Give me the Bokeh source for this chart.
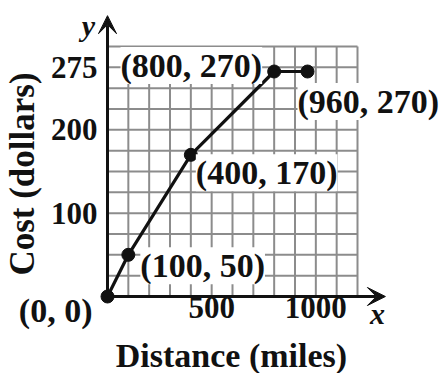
import math
from bokeh.plotting import figure
from bokeh.models import Range1d, FixedTicker, Label, Arrow, VeeHead
from bokeh.embed import file_html
from bokeh.resources import INLINE

# data
distance = [0, 100, 400, 800, 960]
cost = [0, 50, 170, 270, 270]
point_labels = ["(0, 0)", "(100, 50)", "(400, 170)", "(800, 270)", "(960, 270)"]
x_ticks = [500, 1000]
y_ticks = [100, 200, 275]
grid_x = [0, 100, 200, 300, 400, 500, 600, 700, 800, 900, 1000, 1100, 1200]
grid_y = [0, 25, 50, 75, 100, 125, 150, 175, 200, 225, 250, 275, 300]
x_axis_end = 1334
y_axis_end = 337

# label placement (px offsets, align)
label_style = [
    (-15, -14, "right"),
    (12, -11, "left"),
    (5, -18, "left"),
    (-12, 6, "right"),
    (-10, -30, "left"),
]

FONT = "Liberation Serif"
INK = "#111111"

p = figure(width=441, height=373,
           x_range=Range1d(-513.6, 1603.2), y_range=Range1d(-92.4, 355.2),
           output_backend="svg", toolbar_location=None,
           min_border_left=0, min_border_right=0,
           min_border_top=0, min_border_bottom=0)
p.outline_line_color = None
p.xgrid.visible = False
p.ygrid.visible = False

for ax in (p.xaxis, p.yaxis):
    ax.fixed_location = 0
    ax.axis_line_color = None
    ax.major_tick_line_color = None
    ax.minor_tick_line_color = None
    ax.major_tick_out = 0
    ax.major_tick_in = 0
    ax.major_label_text_font = FONT
    ax.major_label_text_font_style = "bold"
    ax.major_label_text_font_size = "31px"
    ax.major_label_text_color = INK
p.xaxis.ticker = FixedTicker(ticks=x_ticks)
p.yaxis.ticker = FixedTicker(ticks=y_ticks)
p.xaxis.major_label_standoff = 0
p.yaxis.major_label_standoff = 10

# grid limited to the drawn area
p.segment(x0=grid_x, y0=[grid_y[0]] * len(grid_x), x1=grid_x, y1=[grid_y[-1]] * len(grid_x),
          line_color="#8c8c8c", line_width=2)
p.segment(x0=[grid_x[0]] * len(grid_y), y0=grid_y, x1=[grid_x[-1]] * len(grid_y), y1=grid_y,
          line_color="#8c8c8c", line_width=2)

# axes with arrow heads
p.add_layout(Arrow(x_start=0, y_start=0, x_end=x_axis_end, y_end=0, line_width=3, line_color=INK,
                   end=VeeHead(size=18, fill_color=INK, line_color=INK)))
p.add_layout(Arrow(x_start=0, y_start=0, x_end=0, y_end=y_axis_end, line_width=3, line_color=INK,
                   end=VeeHead(size=18, fill_color=INK, line_color=INK)))

# data
p.line(distance, cost, line_color=INK, line_width=3.2)
p.scatter(distance, cost, size=13, fill_color=INK, line_color=INK)

for xv, yv, txt, (dx, dy, al) in zip(distance, cost, point_labels, label_style):
    p.add_layout(Label(x=xv, y=yv, text=txt, x_offset=dx, y_offset=dy, text_align=al,
                       text_baseline="middle", text_font=FONT, text_font_style="bold",
                       text_font_size="34px", text_color=INK,
                       background_fill_color="white"))

# axis variable names
p.add_layout(Label(x=0, y=y_axis_end, text="y", x_offset=-19, y_offset=-10, text_align="center",
                   text_baseline="middle", text_font=FONT, text_font_style="bold italic",
                   text_font_size="30px", text_color=INK))
p.add_layout(Label(x=x_axis_end, y=0, text="x", x_offset=-8, y_offset=-17, text_align="center",
                   text_baseline="middle", text_font=FONT, text_font_style="bold italic",
                   text_font_size="30px", text_color=INK))

# axis titles
p.add_layout(Label(x=595, y=-70.5, text="Distance (miles)", text_align="center",
                   text_baseline="middle", text_font=FONT, text_font_style="bold",
                   text_font_size="34px", text_color=INK))
p.add_layout(Label(x=-408, y=147, text="Cost (dollars)", angle=math.pi / 2, text_align="center",
                   text_baseline="middle", text_font=FONT, text_font_style="bold",
                   text_font_size="35px", text_color=INK))

open("out.html", "w").write(file_html(p, INLINE))
